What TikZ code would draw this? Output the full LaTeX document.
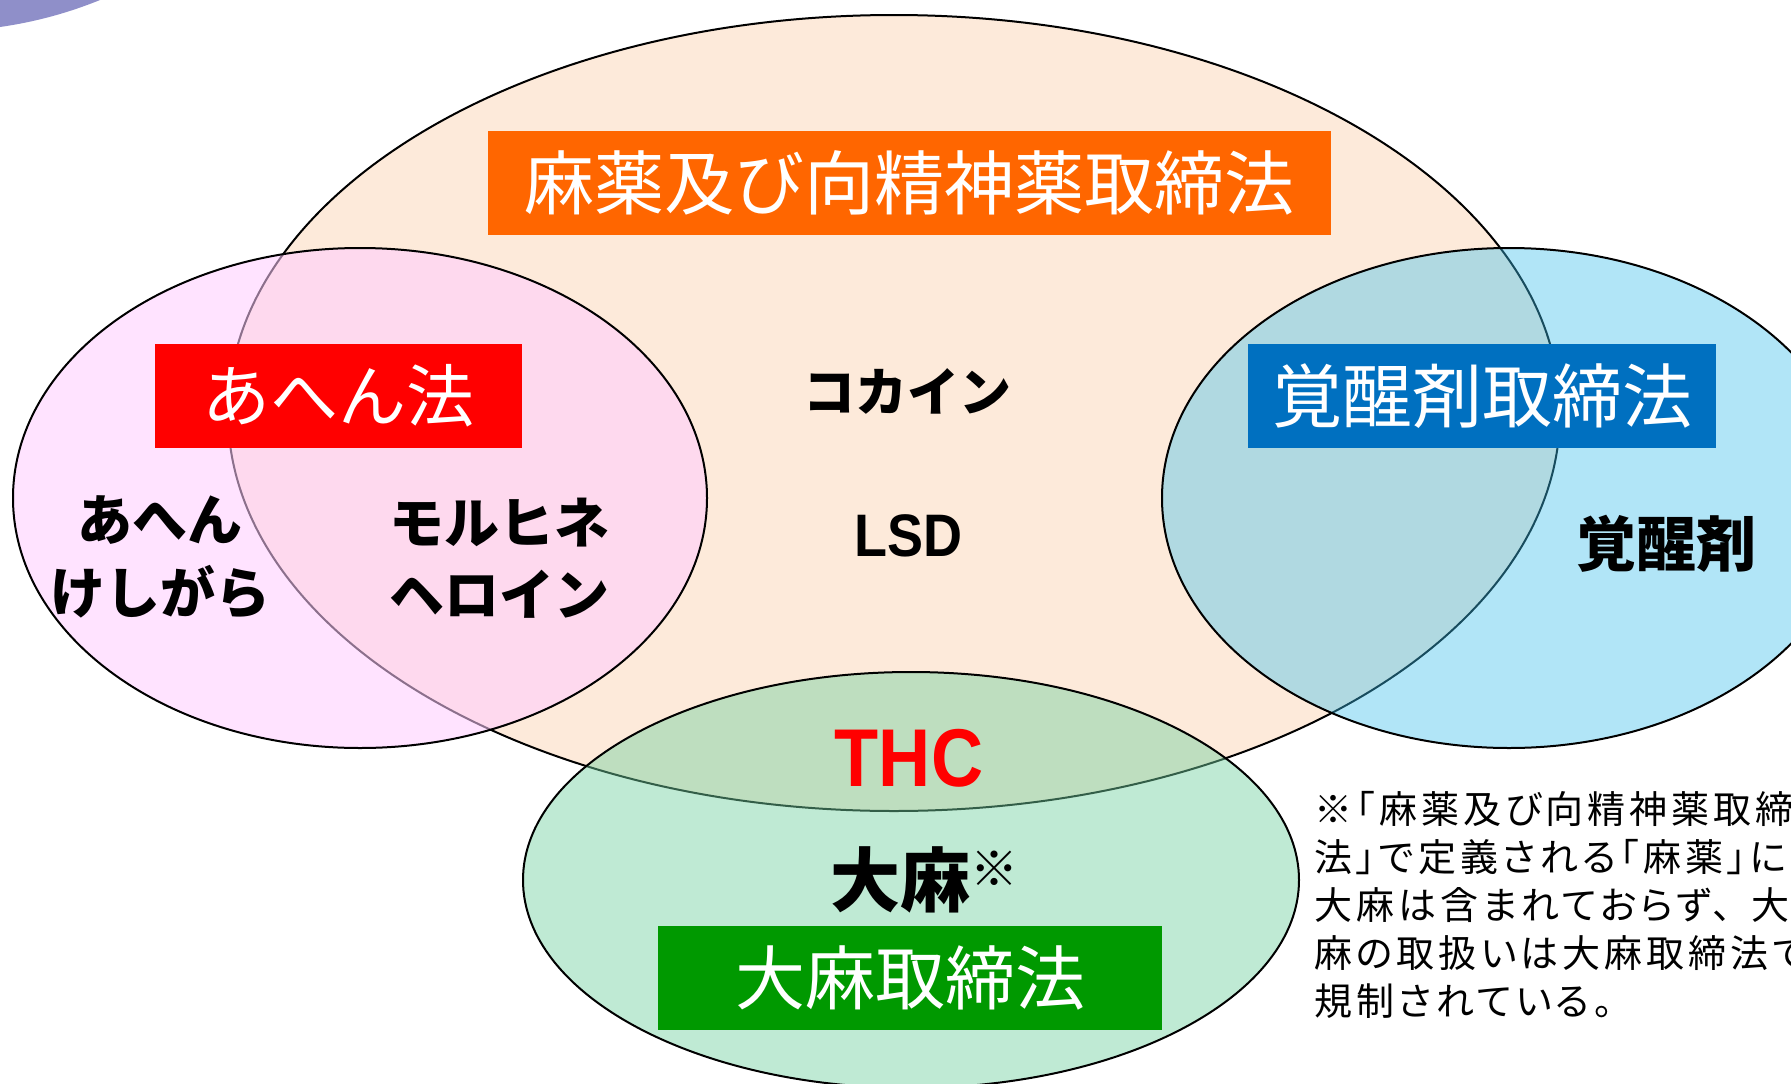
\documentclass[tikz,border=0pt]{standalone}
\usepackage{fontspec}
\setmainfont{Liberation Sans}
\newfontfamily\jp{Noto Sans CJK JP}
\newfontfamily\jpnote[RawFeature=+palt, LetterSpace=10.5]{Noto Sans CJK JP}
\newfontfamily\latn[FakeStretch=0.9]{Liberation Sans}
\newfontfamily\latnthc[FakeStretch=0.88]{Liberation Sans}
\definecolor{orangefill}{HTML}{FDEADA}
\definecolor{pinkc}{HTML}{FFCCFF}
\definecolor{bluec}{HTML}{3EC0ED}
\definecolor{greenc}{HTML}{73D1A0}
\definecolor{orangebox}{HTML}{FF6600}
\definecolor{bluebox}{HTML}{0070C0}
\definecolor{greenbox}{HTML}{009900}
\definecolor{wedge}{HTML}{8F8FC9}
\tikzset{
  outline/.style={draw=black, line width=2pt},
  lawbox/.style={inner sep=0pt, minimum height=104pt, text=white},
  lbl/.style={inner sep=0pt, align=center, text=black},
}
\begin{document}
\begin{tikzpicture}[x=1pt,y=-1pt]
\useasboundingbox (0,0) rectangle (1791,1084);
\clip (0,0) rectangle (1791,1084);
\fill[white] (0,0) rectangle (1791,1084);
\fill[wedge] (0,0) -- (100,0) .. controls (68,13) and (35,22) .. (0,27) -- cycle;
% ellipses
\draw[outline, fill=orangefill] (894,413) ellipse [x radius=666pt, y radius=398pt];
\draw[outline, fill=pinkc, fill opacity=0.55] (360,498) ellipse [x radius=347pt, y radius=250pt];
\draw[outline, fill=bluec, fill opacity=0.4] (1509,498) ellipse [x radius=347pt, y radius=250pt];
\draw[outline, fill=greenc, fill opacity=0.45] (911,880) ellipse [x radius=388pt, y radius=208pt];
% law boxes
\node[lawbox, fill=orangebox, minimum width=843pt, font=\jp\fontsize{70}{74}\selectfont] (mayaku) at (909.5,183) {麻薬及び向精神薬取締法};
\node[lawbox, fill=red, minimum width=367pt, font=\jp\fontsize{68}{72}\selectfont] (ahen) at (338.5,396) {あへん法};
\node[lawbox, fill=bluebox, minimum width=468pt, font=\jp\fontsize{70}{74}\selectfont] (kakusei) at (1482,396) {覚醒剤取締法};
\node[lawbox, fill=greenbox, minimum width=504pt, font=\jp\fontsize{70}{74}\selectfont] (taima) at (910,978) {大麻取締法};
% labels
\node[lbl, font=\jp\bfseries\fontsize{52}{60}\selectfont] (cocaine) at (907,391) {コカイン};
\node[lbl, font=\latn\bfseries\fontsize{60}{64}\selectfont] (lsd) at (908,536) {LSD};
\node[lbl, font=\jp\bfseries\fontsize{55}{73}\selectfont] (ahenk) at (160,557) {あへん\\けしがら};
\node[lbl, font=\jp\bfseries\fontsize{55}{72}\selectfont] (morph) at (499,558) {モルヒネ\\ヘロイン};
\node[lbl, font=\jp\bfseries\fontsize{60}{64}\selectfont] (kakuseizai) at (1666,544) {覚醒剤};
\node[lbl, text=red, font=\latnthc\bfseries\fontsize{82}{86}\selectfont] (thc) at (909,758) {THC};
\node[lbl, font=\jp\bfseries\fontsize{70}{74}\selectfont] (taimalbl) at (900,880) {大麻};
\node[lbl, font=\jp\bfseries\fontsize{48}{50}\selectfont] (kome) at (994,869) {※};
% note
\node[inner sep=0pt, anchor=north west, align=left, font=\jpnote\fontsize{38}{48}\selectfont] (note) at (1314,791)
{※「麻薬及び向精神薬取締\\法」で定義される「麻薬」に\\大麻は含まれておらず、\kern20pt 大\\麻の取扱いは大麻取締法で\\規制されている。};
\end{tikzpicture}
\end{document}
